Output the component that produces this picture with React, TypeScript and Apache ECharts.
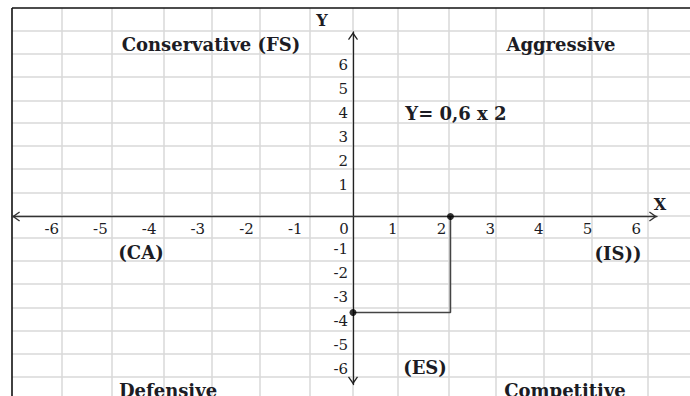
import React, { useEffect, useRef } from "react";
import * as echarts from "echarts";

// ---- data ----
const xTickLabels = ["-6", "-5", "-4", "-3", "-2", "-1", "0", "1", "2", "3", "4", "5", "6"];
const yTickLabels = ["-6", "-5", "-4", "-3", "-2", "-1", "1", "2", "3", "4", "5", "6"];
const pathX = [2, 2, 0];
const pathY = [0, -4, -4];
const markX = [2, 0];
const markY = [0, -4];
const annotationTexts = [
  "Conservative (FS)",
  "Aggressive",
  "Y= 0,6 x 2",
  "(CA)",
  "(IS))",
  "(ES)",
  "Defensive",
  "Competitive",
];
const axisNames = ["X", "Y"];

// ---- layout (pixels) ----
const W = 690;
const H = 396;
const annotationPos = [
  [211, 44],
  [561, 44],
  [456, 113],
  [141, 252],
  [618, 253],
  [425, 367],
  [168, 390],
  [565, 390],
];
const axisNamePos = [
  [660, 204],
  [322, 20],
];
const cellCols = [62, 112, 164, 212, 260, 310, 353, 398, 449, 496, 544, 592, 648];
const cellRows = [31, 54, 77, 101, 123, 146, 169, 193, 216, 238, 261, 284, 308, 331, 354, 377];
const frameLeft = 12;
const frameTop = 8;

const GRID_LEFT = 12;
const GRID_RIGHT = 33;
const GRID_TOP = 32;
const GRID_BOTTOM = 11.5;
const ORIGIN_X = 353;
const ORIGIN_Y = 216.5;

const SERIF = '"DejaVu Serif", "Liberation Serif", serif';
const TEXT = "#1c1c24";
const CHEVRON = "path://M5,0 L10,7.2 L9,8 L5,2.4 L1,8 L0,7.2 Z";

function isTick(v: number, list: string[]) {
  const r = Math.round(v);
  return Math.abs(v - r) < 1e-6 && list.includes(String(r));
}

export default function App() {
  const ref = useRef<HTMLDivElement>(null);

  useEffect(() => {
    document.body.style.margin = "0";
    document.body.style.overflow = "hidden";
    if (!ref.current) return;
    const chart = echarts.init(ref.current, undefined, { renderer: "svg" });

    const graphic: any[] = [];
    cellCols.forEach((x) =>
      graphic.push({
        type: "line",
        z: -2,
        silent: true,
        shape: { x1: x, y1: frameTop, x2: x, y2: H },
        style: { stroke: "#d8d8d8", lineWidth: 1.5 },
      })
    );
    cellRows.forEach((y) =>
      graphic.push({
        type: "line",
        z: -2,
        silent: true,
        shape: { x1: frameLeft, y1: y, x2: W, y2: y },
        style: { stroke: "#d8d8d8", lineWidth: 1.5 },
      })
    );
    graphic.push({
      type: "line",
      z: -1,
      silent: true,
      shape: { x1: frameLeft, y1: frameTop, x2: W, y2: frameTop },
      style: { stroke: "#111", lineWidth: 1.6 },
    });
    graphic.push({
      type: "line",
      z: -1,
      silent: true,
      shape: { x1: frameLeft, y1: frameTop, x2: frameLeft, y2: H },
      style: { stroke: "#111", lineWidth: 1.6 },
    });
    annotationTexts.forEach((t, i) =>
      graphic.push({
        type: "text",
        z: 10,
        x: annotationPos[i][0],
        y: annotationPos[i][1],
        style: {
          text: t,
          fill: TEXT,
          font: `bold 18px ${SERIF}`,
          textAlign: "center",
          textVerticalAlign: "middle",
        },
      })
    );
    axisNames.forEach((t, i) =>
      graphic.push({
        type: "text",
        z: 10,
        x: axisNamePos[i][0],
        y: axisNamePos[i][1],
        style: {
          text: t,
          fill: TEXT,
          font: `bold 16px ${SERIF}`,
          textAlign: "center",
          textVerticalAlign: "middle",
        },
      })
    );

    const option: any = {
      animation: false,
      backgroundColor: "#ffffff",
      grid: {
        left: GRID_LEFT,
        right: GRID_RIGHT,
        top: GRID_TOP,
        bottom: GRID_BOTTOM,
        containLabel: false,
        outerBoundsMode: "none",
      },
      xAxis: {
        type: "value",
        position: "bottom",
        offset: -(H - GRID_BOTTOM - ORIGIN_Y),
        min: -7,
        max: 6.24,
        interval: 1,
        axisLine: {
          onZero: false,
          symbol: [CHEVRON, CHEVRON],
          symbolSize: [10, 8],
          symbolOffset: [4, -4],
          lineStyle: { color: "#333", width: 1.3 },
        },
        axisTick: { show: false },
        splitLine: { show: false },
        axisLabel: {
          margin: 5,
          color: TEXT,
          fontFamily: SERIF,
          fontSize: 15,
          padding: [0, 18, 0, 0],
          formatter: (v: number) => (isTick(v, xTickLabels) ? String(Math.round(v)) : ""),
        },
      },
      yAxis: {
        type: "value",
        position: "left",
        offset: -(ORIGIN_X - GRID_LEFT),
        min: -7,
        max: 7.6875,
        interval: 1,
        axisLine: {
          onZero: false,
          symbol: [CHEVRON, CHEVRON],
          symbolSize: [10, 8],
          symbolOffset: [4, -4],
          lineStyle: { color: "#222", width: 1.3 },
        },
        axisTick: { show: false },
        splitLine: { show: false },
        axisLabel: {
          margin: 5,
          color: TEXT,
          fontFamily: SERIF,
          fontSize: 15,
          lineHeight: 16,
          formatter: (v: number) => {
            if (!isTick(v, yTickLabels)) return "";
            const s = String(Math.round(v));
            return v > 0 ? s + "\n " : " \n" + s;
          },
        },
      },
      series: [
        {
          type: "line",
          data: pathX.map((x, i) => [x, pathY[i]]),
          showSymbol: false,
          lineStyle: { color: "#444", width: 1.6 },
          z: 3,
        },
        {
          type: "scatter",
          data: markX.map((x, i) => [x, markY[i]]),
          symbolSize: 7,
          itemStyle: { color: "#000" },
          z: 4,
        },
      ],
      graphic,
    };
    chart.setOption(option);
    return () => chart.dispose();
  }, []);

  return <div ref={ref} style={{ width: W, height: H }} />;
}
